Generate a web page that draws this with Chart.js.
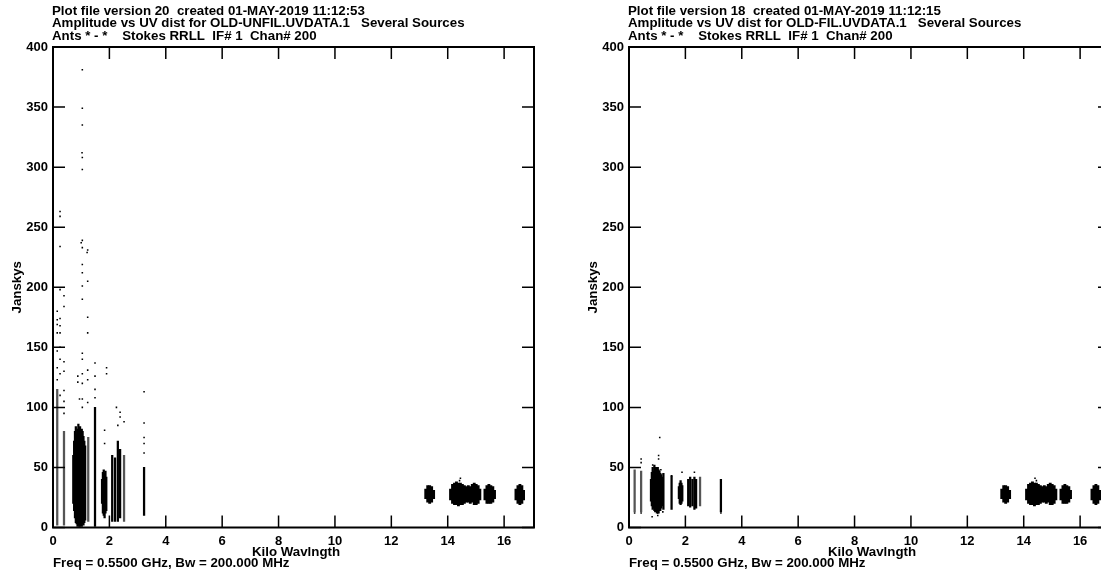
<!DOCTYPE html>
<html>
<head>
<meta charset="utf-8">
<script src="https://cdn.jsdelivr.net/npm/chart.js@4"></script>
<style>
  html, body { margin: 0; padding: 0; background: #fff; overflow: hidden; width: 1101px; height: 577px; }
  canvas { position: absolute; top: 0; }
  #leftChart { left: 0; }
  #rightChart { left: 576px; }
</style>
</head>
<body>
<canvas id="leftChart" width="560" height="577"></canvas>
<canvas id="rightChart" width="560" height="577"></canvas>
<script>
// axis ticks
const xTickStep = 2;
const yTickStep = 50;

// far baselines, both plots (x = kilo wavelength, lo/hi = amplitude range of each column)
const farX  = [13.22, 13.29, 13.36, 13.43, 13.50, 14.10, 14.17, 14.24, 14.31, 14.38, 14.45, 14.52, 14.59, 14.66, 14.73, 14.80, 14.87, 14.94, 15.01, 15.08, 15.14, 15.32, 15.39, 15.46, 15.53, 15.60, 15.66, 16.42, 16.49, 16.56, 16.63, 16.69];
const farLo = [24, 21, 20, 21, 24, 23, 20, 19, 19, 18, 19, 19, 20, 21, 21, 20, 21, 19, 19, 20, 23, 23, 20, 20, 20, 21, 24, 23, 20, 19, 20, 23];
const farHi = [32, 35, 35, 34, 31, 32, 36, 37, 38, 37, 37, 36, 35, 34, 35, 34, 36, 37, 36, 35, 32, 32, 35, 36, 35, 34, 31, 32, 35, 36, 35, 31];

// OLD-UNFIL: dense columns
const unfilDenseX  = [0.72, 0.75, 0.78, 0.81, 0.84, 0.87, 0.90, 0.93, 0.96, 0.99, 1.02, 1.05, 1.08, 1.11, 1.14,
  1.49, 1.74, 1.77, 1.80, 1.83, 1.86, 1.89, 2.10, 2.20, 2.30, 2.38, 3.23];
const unfilDenseLo = [20, 14, 8, 4, 3, 1, 2, 1, 1, 2, 1, 3, 2, 4, 6,
  1, 20, 12, 10, 8, 12, 14, 5, 5, 5, 8, 10];
const unfilDenseHi = [60, 72, 80, 84, 78, 82, 86, 80, 84, 78, 82, 80, 76, 72, 68,
  100, 40, 46, 48, 45, 47, 42, 60, 58, 72, 65, 50];
// OLD-UNFIL: sparse columns
const unfilSparseX  = [0.15, 0.39, 1.25, 2.52];
const unfilSparseLo = [2, 2, 5, 5];
const unfilSparseHi = [115, 80, 75, 60];
// OLD-UNFIL: outlying points
const unfilDotX = [1.04, 1.04, 1.04, 1.03, 1.04, 1.04, 0.25, 0.25, 0.25, 0.25, 0.25, 0.25, 0.25, 0.15, 0.39, 0.39,
  1.04, 1.00, 1.04, 1.04, 1.04, 1.04, 1.04, 1.23, 1.21, 1.23, 1.23, 1.23, 0.15, 0.15, 0.15, 0.15, 0.15, 0.15,
  0.25, 0.25, 0.25, 0.25, 0.39, 0.39, 0.39, 0.39, 0.39, 1.04, 1.04, 1.04, 1.04, 1.04, 1.04, 0.88, 0.88, 0.94,
  1.23, 1.23, 1.23, 1.49, 1.49, 1.49, 1.49, 1.90, 1.90, 1.83, 1.83, 2.25, 2.38, 2.38, 2.30, 2.52, 3.23, 3.23,
  3.23, 3.23, 3.23, 14.45, 14.42];
const unfilDotY = [381, 349, 335, 312, 308, 298, 263, 259, 234, 198, 174, 168, 162, 180, 193, 184,
  239, 237, 233, 219, 212, 201, 190, 231, 229, 205, 175, 162, 173, 169, 162, 147, 133, 123,
  150, 140, 128, 110, 138, 130, 114, 105, 95, 145, 140, 128, 120, 107, 100, 126, 121, 107,
  131, 123, 104, 137, 126, 115, 108, 133, 128, 81, 70, 100, 96, 92, 85, 88, 113, 87,
  75, 70, 62, 41, 39];

// OLD-FIL: dense columns
const filDenseX  = [0.78, 0.81, 0.84, 0.87, 0.90, 0.93, 0.96, 0.99, 1.02, 1.05, 1.08, 1.11, 1.14, 1.17, 1.22,
  1.51, 1.77, 1.80, 1.83, 1.86, 1.89, 2.10, 2.17, 2.25, 2.32, 2.38, 3.26];
const filDenseLo = [22, 18, 15, 16, 14, 13, 15, 12, 13, 12, 14, 14, 16, 18, 15,
  15, 24, 20, 19, 20, 22, 18, 17, 18, 15, 16, 13];
const filDenseHi = [40, 46, 50, 47, 52, 48, 50, 46, 50, 48, 47, 45, 44, 42, 45,
  43, 34, 37, 39, 37, 35, 40, 42, 40, 42, 40, 40];
// OLD-FIL: sparse columns
const filSparseX  = [0.20, 0.43, 2.52];
const filSparseLo = [13, 13, 18];
const filSparseHi = [48, 47, 42];
// OLD-FIL: outlying points
const filDotX = [1.09, 1.05, 1.05, 0.43, 0.43, 0.84, 1.13, 1.88, 2.32, 1.51, 1.02, 1.02, 0.82, 3.26, 0.20, 0.43, 1.20, 14.40, 14.45];
const filDotY = [75, 60, 57, 57, 54, 52, 48, 46, 46, 43, 12, 10, 9, 12, 12, 12, 13, 41, 39];

const FONT = '"Liberation Sans", Arial, sans-serif';

function columns(xs, lo, hi) {
  return xs.map((x, i) => ({x: x, y: [lo[i], hi[i]]}));
}
function points(xs, ys) {
  return xs.map((x, i) => ({x: x, y: ys[i]}));
}

const framePlugin = {
  id: 'frame',
  afterDatasetsDraw(chart, args, opts) {
    const ctx = chart.ctx;
    const a = chart.chartArea;
    const xs = chart.scales.x, ys = chart.scales.y;
    ctx.save();
    ctx.strokeStyle = '#000';
    ctx.lineWidth = 2;
    ctx.strokeRect(a.left, a.top, a.right - a.left, a.bottom - a.top);
    ctx.lineWidth = 1.5;
    ctx.beginPath();
    xs.ticks.forEach(t => {
      const px = xs.getPixelForValue(t.value);
      ctx.moveTo(px, a.bottom); ctx.lineTo(px, a.bottom - 12);
      ctx.moveTo(px, a.top); ctx.lineTo(px, a.top + 12);
    });
    ys.ticks.forEach(t => {
      const py = ys.getPixelForValue(t.value);
      ctx.moveTo(a.left, py); ctx.lineTo(a.left + 12, py);
      ctx.moveTo(a.right, py); ctx.lineTo(a.right - 12, py);
    });
    ctx.stroke();

    ctx.fillStyle = '#000';
    ctx.font = 'bold 13.3px ' + FONT;
    ctx.textAlign = 'left';
    ctx.textBaseline = 'alphabetic';
    opts.header.forEach((s, i) => ctx.fillText(s, a.left - 1, 15 + i * 12.3));
    ctx.fillText(opts.footer, a.left, 567);
    ctx.textAlign = 'center';
    ctx.fillText(opts.xTitle, a.left + 243, 556);
    ctx.translate(a.left - 32.5, (a.top + a.bottom) / 2);
    ctx.rotate(-Math.PI / 2);
    ctx.fillText(opts.yTitle, 0, 0);
    ctx.restore();
  }
};

function makeChart(id, header, denseX, denseLo, denseHi, sparseX, sparseLo, sparseHi, dotX, dotY) {
  return new Chart(document.getElementById(id), {
    type: 'scatter',
    data: {
      datasets: [
        {
          type: 'bar',
          data: columns(sparseX, sparseLo, sparseHi),
          backgroundColor: '#555',
          barThickness: 1.6,
          grouped: false,
          borderWidth: 0
        },
        {
          type: 'bar',
          data: columns(denseX, denseLo, denseHi),
          backgroundColor: '#000',
          barThickness: 1.6,
          grouped: false,
          borderWidth: 0
        },
        {
          type: 'bar',
          data: columns(farX, farLo, farHi),
          backgroundColor: '#000',
          barThickness: 2.2,
          grouped: false,
          borderWidth: 0
        },
        {
          data: points(dotX, dotY),
          backgroundColor: '#000',
          borderWidth: 0,
          pointStyle: 'rect',
          pointRadius: 1.1
        }
      ]
    },
    options: {
      responsive: false,
      animation: false,
      layout: { padding: { top: 47, right: 26, bottom: 0, left: 0 } },
      plugins: {
        legend: { display: false },
        tooltip: { enabled: false },
        frame: {
          header: header,
          footer: 'Freq = 0.5500 GHz, Bw = 200.000 MHz',
          xTitle: 'Kilo Wavlngth',
          yTitle: 'Janskys'
        }
      },
      scales: {
        x: {
          type: 'linear',
          min: 0,
          max: 17.06,
          offset: false,
          grid: { display: false, drawTicks: false },
          border: { display: false },
          ticks: {
            stepSize: xTickStep,
            includeBounds: false,
            padding: 6,
            maxRotation: 0,
            color: '#000',
            font: { family: FONT, size: 13, weight: 'bold' }
          },
          afterFit: s => { s.height = 49.5; }
        },
        y: {
          type: 'linear',
          min: 0,
          max: 400,
          grid: { display: false, drawTicks: false },
          border: { display: false },
          ticks: {
            stepSize: yTickStep,
            padding: 5,
            color: '#000',
            font: { family: FONT, size: 13, weight: 'bold' }
          },
          afterFit: s => { s.width = 53; }
        }
      }
    },
    plugins: [framePlugin]
  });
}

makeChart('leftChart', [
  'Plot file version 20  created 01-MAY-2019 11:12:53',
  'Amplitude vs UV dist for OLD-UNFIL.UVDATA.1   Several Sources',
  'Ants * - *    Stokes RRLL  IF# 1  Chan# 200'
], unfilDenseX, unfilDenseLo, unfilDenseHi, unfilSparseX, unfilSparseLo, unfilSparseHi, unfilDotX, unfilDotY);

makeChart('rightChart', [
  'Plot file version 18  created 01-MAY-2019 11:12:15',
  'Amplitude vs UV dist for OLD-FIL.UVDATA.1   Several Sources',
  'Ants * - *    Stokes RRLL  IF# 1  Chan# 200'
], filDenseX, filDenseLo, filDenseHi, filSparseX, filSparseLo, filSparseHi, filDotX, filDotY);
</script>
</body>
</html>
